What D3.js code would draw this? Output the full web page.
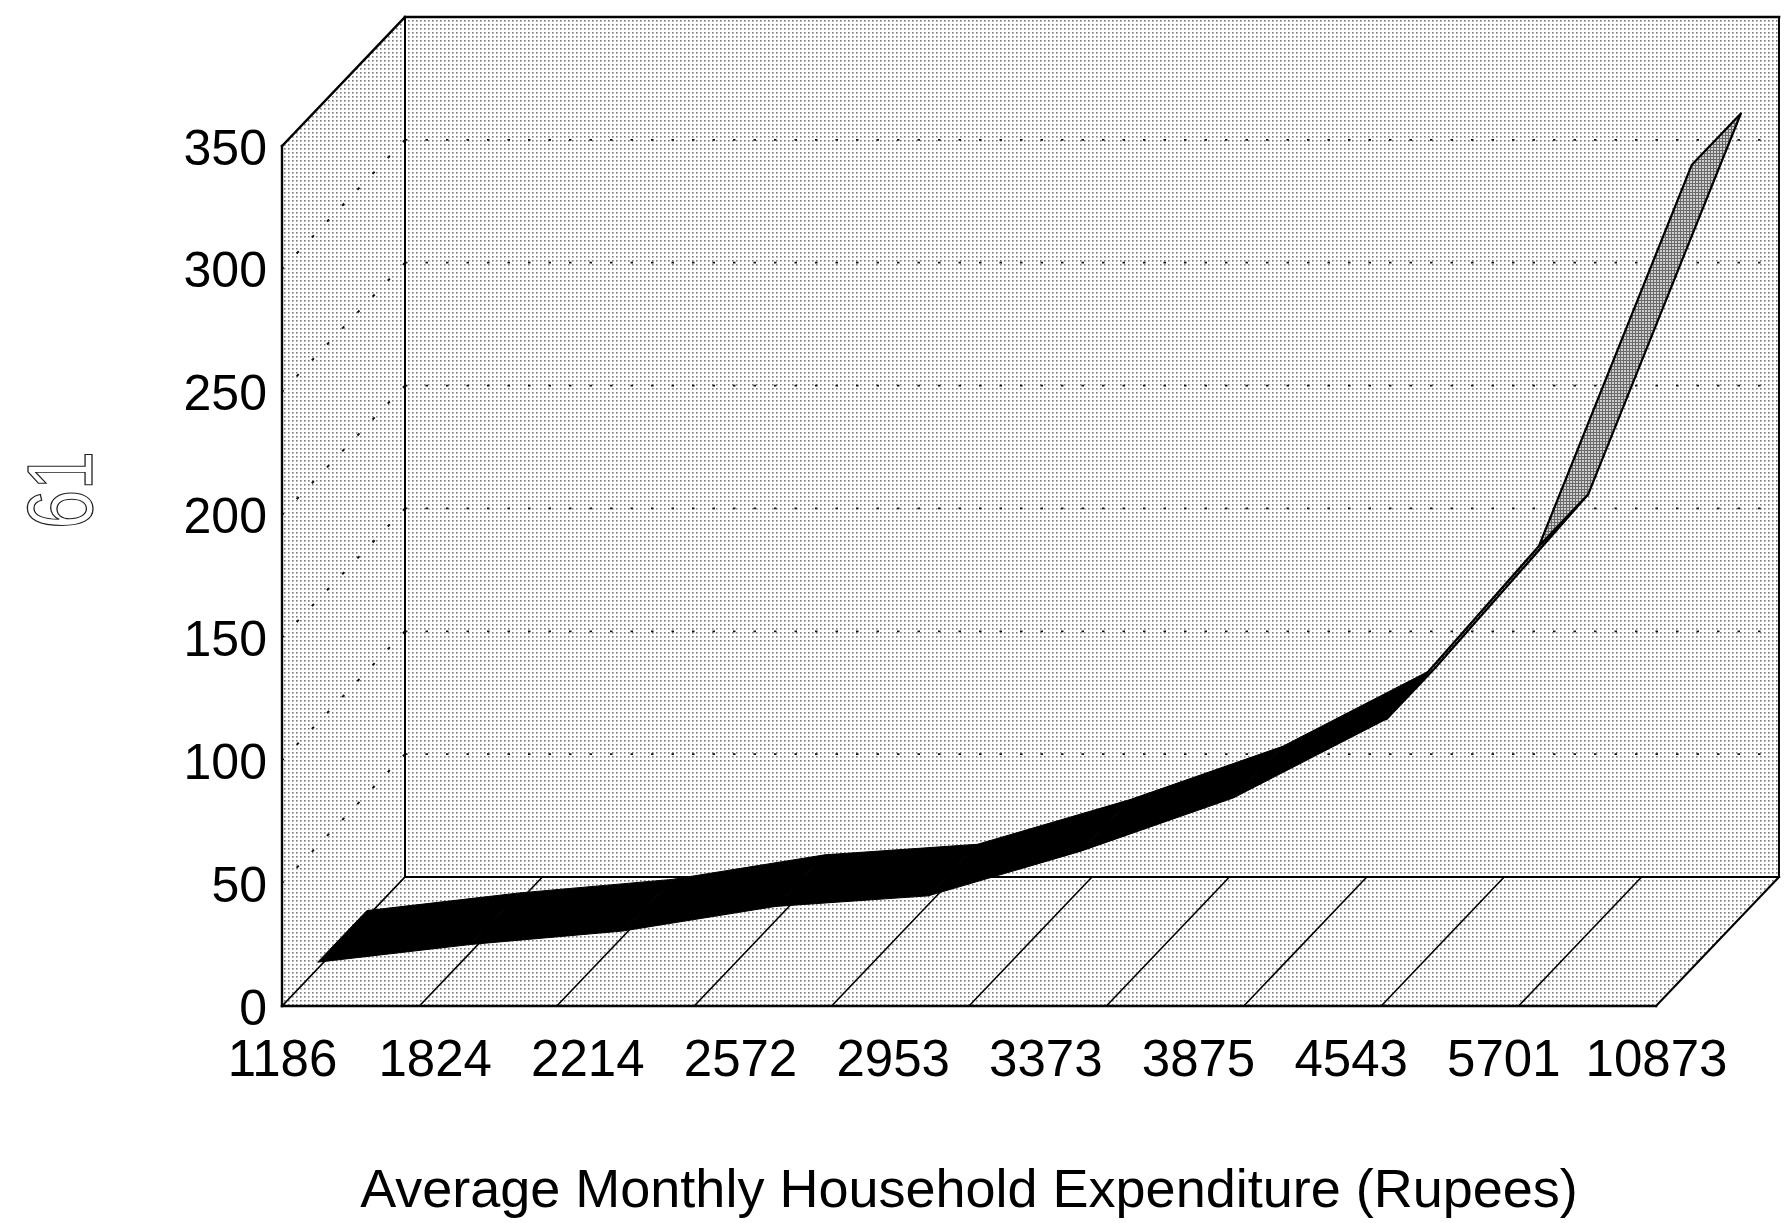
<!DOCTYPE html>
<html>
<head>
<meta charset="utf-8">
<script src="https://cdn.jsdelivr.net/npm/d3@7"></script>
<style>
  html, body { margin: 0; padding: 0; background: #fff; }
  svg { display: block; }
  text { font-family: "Liberation Sans", Arial, Helvetica, sans-serif; fill: #000; }
</style>
</head>
<body>
<svg id="chart" width="1785" height="1223"></svg>
<script>
// Household expenditure classes (Rupees per month) and the plotted series
const categories = ["1186", "1824", "2214", "2572", "2953", "3373", "3875", "4543", "5701", "10873"];
const values = [2.6, 9.8, 15.3, 25.3, 29.6, 47.8, 69.5, 101.5, 172, 327];
const yTicks = [0, 50, 100, 150, 200, 250, 300, 350];
const gridValues = [50, 100, 150, 200, 250, 300];
const xTitle = "Average Monthly Household Expenditure (Rupees)";
const marginNote = "61";

const svg = d3.select("#chart");

// Front face of the 3-D box and the oblique depth vector
const frontLeft = 282, frontRight = 1656, floorY = 1006, topY = 146;
const depth = { dx: 123, dy: -129 };
const ribbonNear = 0.29, ribbonFar = 0.69;   // ribbon position across the depth

const x = d3.scalePoint().domain(categories).range([frontLeft, frontRight]);
const floorBands = d3.scaleBand().domain(categories).range([frontLeft, frontRight]);
const y = d3.scaleLinear().domain([0, 350]).range([floorY, topY]);

const project = (px, py, d) => [px + d * depth.dx, py + d * depth.dy];

// Textures
const defs = svg.append("defs");
const stipple = defs.append("pattern")
  .attr("id", "stipple").attr("patternUnits", "userSpaceOnUse")
  .attr("width", 4).attr("height", 4);
stipple.append("rect").attr("width", 4).attr("height", 4).attr("fill", "#fff");
stipple.append("rect").attr("width", 1.6).attr("height", 1.6).attr("fill", "#7a7a7a");

const hatch = defs.append("pattern")
  .attr("id", "hatch").attr("patternUnits", "userSpaceOnUse")
  .attr("width", 3).attr("height", 3);
hatch.append("rect").attr("width", 3).attr("height", 3).attr("fill", "#cfcfcf");
hatch.append("rect").attr("width", 3).attr("height", 1).attr("fill", "#6a6a6a");
hatch.append("rect").attr("width", 1).attr("height", 3).attr("fill", "#6a6a6a");

// Box corners
const fl0 = [frontLeft, y(0)], fl1 = [frontLeft, y(350)];
const fr0 = [frontRight, y(0)];
const bl0 = project(frontLeft, y(0), 1), bl1 = project(frontLeft, y(350), 1);
const br0 = project(frontRight, y(0), 1), br1 = project(frontRight, y(350), 1);

const walls = svg.append("g");
walls.append("polygon").attr("points", [fl0, fl1, bl1, bl0].join(" ")).attr("fill", "url(#stipple)");
walls.append("polygon").attr("points", [bl0, bl1, br1, br0].join(" ")).attr("fill", "url(#stipple)");
walls.append("polygon").attr("points", [fl0, fr0, br0, bl0].join(" ")).attr("fill", "url(#stipple)");

// Dotted gridlines: back wall and left side wall
const grid = svg.append("g")
  .attr("stroke", "#111").attr("fill", "none");
grid.selectAll("line.back").data(gridValues).join("line")
  .attr("class", "back")
  .attr("stroke-width", 1.7).attr("stroke-dasharray", "2.5 18")
  .attr("x1", bl0[0]).attr("x2", br0[0])
  .attr("y1", v => y(v) + depth.dy).attr("y2", v => y(v) + depth.dy);
grid.selectAll("line.side").data(gridValues).join("line")
  .attr("class", "side")
  .attr("stroke-width", 2).attr("stroke-dasharray", "3 19")
  .attr("x1", bl0[0]).attr("y1", v => y(v) + depth.dy)
  .attr("x2", frontLeft).attr("y2", v => y(v));

// Floor dividers
const floorLines = svg.append("g").attr("stroke", "#000").attr("stroke-width", 1.6);
const dividers = floorBands.domain().slice(1).map(c => floorBands(c));
floorLines.selectAll("line").data(dividers).join("line")
  .attr("x1", d => d).attr("y1", floorY)
  .attr("x2", d => d + depth.dx).attr("y2", floorY + depth.dy);

// Box edges
const edges = svg.append("g").attr("stroke", "#000").attr("fill", "none").attr("stroke-linecap", "square");
const edge = (a, b, w) => edges.append("line")
  .attr("x1", a[0]).attr("y1", a[1]).attr("x2", b[0]).attr("y2", b[1]).attr("stroke-width", w);
edge(fl0, fl1, 2.4);
edge(fl1, bl1, 2.4);
edge(bl1, br1, 2.6);
edge(bl1, bl0, 2);
edge(br1, br0, 2);
edge(bl0, br0, 2.2);
edge(fl0, fr0, 2.6);
edge(fr0, br0, 2);
edge(fl0, bl0, 1.6);

// Ribbon: one quadrilateral per interval; black when its upper face shows, hatched when the underside shows
const pts = categories.map((c, i) => [x(c), y(values[i])]);
const ribbon = svg.append("g").attr("stroke-linejoin", "round");
d3.range(pts.length - 1).forEach(i => {
  const f0 = project(pts[i][0], pts[i][1], ribbonNear);
  const f1 = project(pts[i + 1][0], pts[i + 1][1], ribbonNear);
  const b1 = project(pts[i + 1][0], pts[i + 1][1], ribbonFar);
  const b0 = project(pts[i][0], pts[i][1], ribbonFar);
  const cross = (f1[0] - f0[0]) * (b0[1] - f0[1]) - (f1[1] - f0[1]) * (b0[0] - f0[0]);
  const upper = cross < 0;
  ribbon.append("polygon")
    .attr("points", [f0, f1, b1, b0].join(" "))
    .attr("fill", upper ? "#000" : "url(#hatch)")
    .attr("stroke", "#000")
    .attr("stroke-width", upper ? 1 : 2.2);
});

// Value axis on the front-left edge
const yAxis = svg.append("g")
  .attr("transform", `translate(${frontLeft},0)`)
  .call(d3.axisLeft(y).tickValues(yTicks).tickSize(0).tickPadding(15).tickFormat(d3.format("d")));
yAxis.select(".domain").remove();
yAxis.selectAll("text").attr("font-size", 50).attr("dy", "0.36em")
  .style("font-family", "'Liberation Sans', Arial, sans-serif");

// Category axis under the floor
const xAxis = svg.append("g")
  .attr("transform", `translate(0,${floorY})`)
  .call(d3.axisBottom(x).tickSize(0).tickPadding(34));
xAxis.select(".domain").remove();
xAxis.selectAll("text").attr("font-size", 51)
  .style("font-family", "'Liberation Sans', Arial, sans-serif");

// Axis title
svg.append("text")
  .attr("x", (frontLeft + frontRight) / 2).attr("y", 1207)
  .attr("text-anchor", "middle").attr("font-size", 54)
  .text(xTitle);

// Pen note in the left margin
svg.append("text")
  .attr("transform", "translate(92,490) rotate(-90)")
  .attr("text-anchor", "middle")
  .attr("font-size", 92)
  .attr("textLength", 78).attr("lengthAdjust", "spacingAndGlyphs")
  .style("fill", "none").style("stroke", "#222").style("stroke-width", 1.3)
  .text(marginNote);
</script>
</body>
</html>
